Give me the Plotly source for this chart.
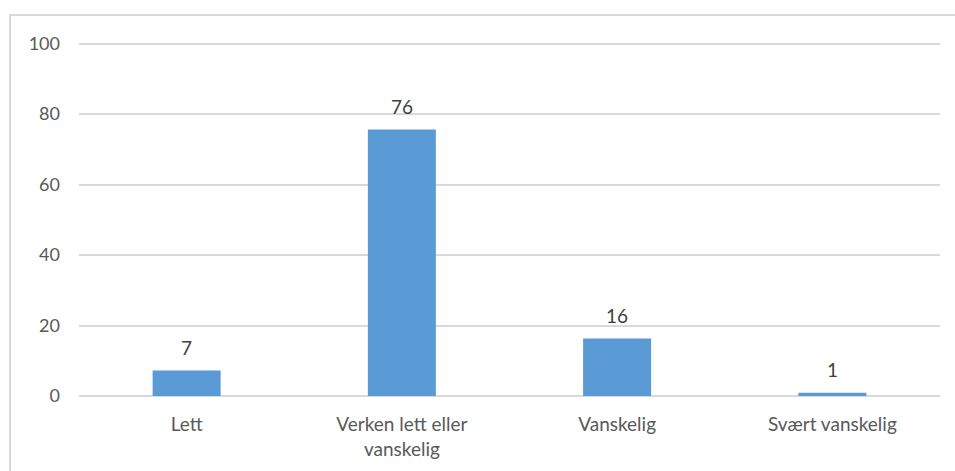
import plotly.graph_objects as go

categories = ["Lett", "Verken lett eller<br>vanskelig", "Vanskelig", "Svært vanskelig"]
values = [7.2, 75.6, 16.3, 0.9]
labels = ["7", "76", "16", "1"]
y_ticks = [0, 20, 40, 60, 80, 100]

FONT = "Lato, 'Open Sans', sans-serif"
GRID = "#d9d9d9"
TEXT = "#595959"

fig = go.Figure()
fig.add_bar(x=categories, y=values,
            marker=dict(color="#5b9bd5", line=dict(width=0)))

# data labels above bars
for cat, val, lab in zip(categories, values, labels):
    fig.add_annotation(x=cat, y=val, text=lab, showarrow=False,
                       yanchor="bottom", yshift=10,
                       font=dict(size=19, color="#404040", family=FONT))

fig.update_layout(
    width=955, height=471,
    margin=dict(l=79, r=15, t=40, b=75),
    paper_bgcolor="white", plot_bgcolor="white",
    bargap=0.684, showlegend=False,
    font=dict(family=FONT, size=19, color=TEXT),
)
fig.update_yaxes(range=[0, 101], tickvals=y_ticks, showgrid=True, gridcolor=GRID,
                 gridwidth=1.5, zeroline=True, zerolinecolor=GRID, zerolinewidth=1.5,
                 showline=False, ticks="", ticklabelstandoff=18, automargin=False,
                 tickfont=dict(size=18, color=TEXT))
fig.update_xaxes(showgrid=False, showline=False, ticks="", automargin=False,
                 ticklabelstandoff=15, tickfont=dict(size=19, color=TEXT))

# chart-area border (Excel style)
fig.add_shape(type="rect", xref="paper", yref="paper",
              x0=(10 - 79) / 861, x1=(960 - 79) / 861,
              y0=(396 - 480) / 356, y1=(396 - 15) / 356,
              line=dict(color=GRID, width=2), layer="below")

fig.write_html("out.html", config={"displayModeBar": False},
               post_script="document.body.style.margin='0';")
